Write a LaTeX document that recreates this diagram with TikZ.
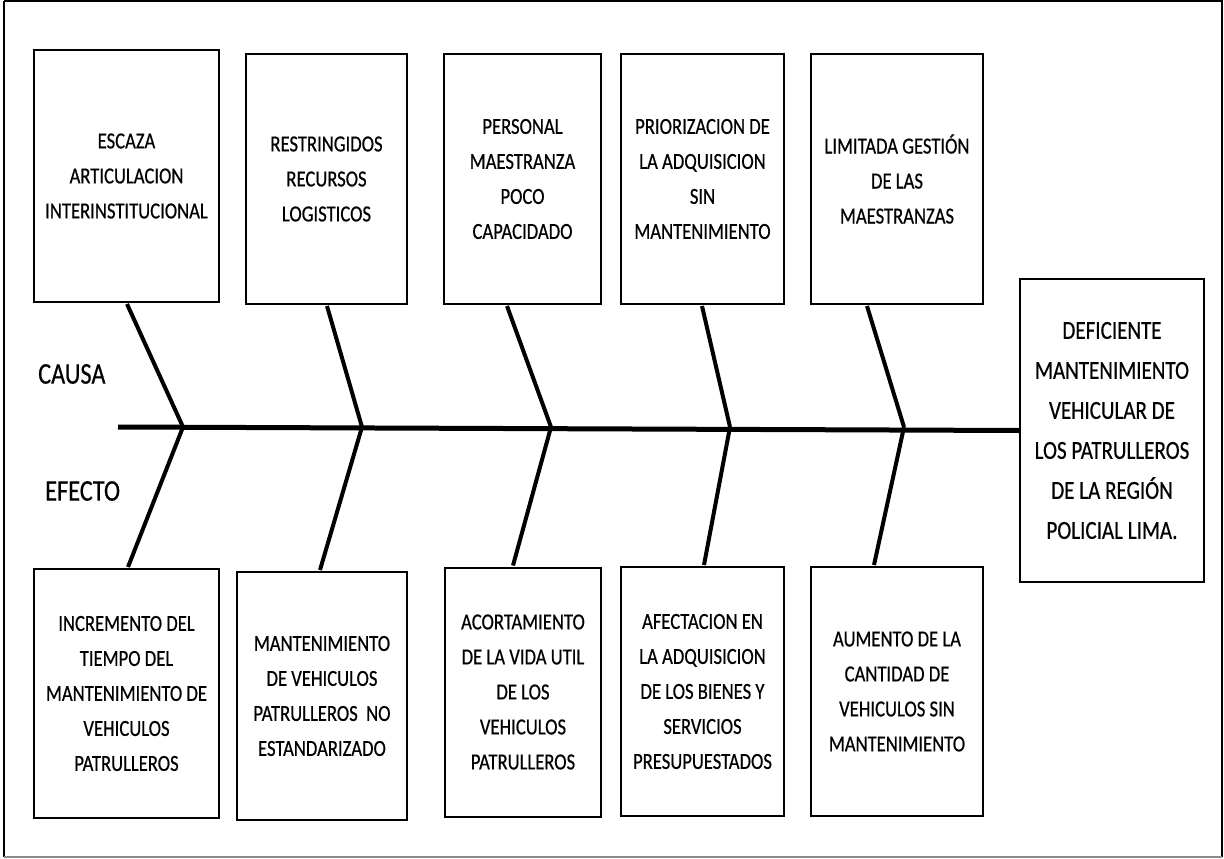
\documentclass[tikz,border=0pt]{standalone}
\usepackage{fontspec}
\setmainfont{Carlito}[FakeStretch=0.81,FakeBold=0.5]
\usetikzlibrary{calc}
\tikzset{
  frame/.style={draw=black, line width=1.5pt},
  causebox/.style={draw=black, line width=2pt, align=center, inner sep=0pt,
    font=\fontsize{23}{35}\selectfont},
  effbox/.style={draw=black, line width=2pt, align=center, inner sep=0pt,
    font=\fontsize{26}{40}\selectfont},
  sidelabel/.style={anchor=west, inner sep=0pt, font=\fontsize{30}{36}\selectfont},
  spine/.style={line width=5pt},
  bone/.style={line width=4pt},
}
\begin{document}
\begin{tikzpicture}[x=1pt,y=-1pt]
\useasboundingbox (0,0) rectangle (1224,859);
\fill[white] (0,0) rectangle (1224,859);
\draw[frame] (4,1) -- (1222,1) -- (1222,857);
\draw[frame] (4,1) -- (4,857);
\draw[line width=1.5pt, draw=black!45] (4,857) -- (1222,857);

% top (cause) boxes
\node[causebox, minimum width=185, minimum height=252] (c1) at (126.5,176) {ESCAZA\\ARTICULACION\\INTERINSTITUCIONAL};
\node[causebox, minimum width=161, minimum height=250] (c2) at (326.5,179) {RESTRINGIDOS\\RECURSOS\\LOGISTICOS};
\node[causebox, minimum width=157, minimum height=250] (c3) at (522.5,179) {PERSONAL\\MAESTRANZA\\POCO\\CAPACIDADO};
\node[causebox, minimum width=163, minimum height=250] (c4) at (702.5,179) {PRIORIZACION DE\\LA ADQUISICION\\SIN\\MANTENIMIENTO};
\node[causebox, minimum width=172, minimum height=250] (c5) at (897,179) {LIMITADA GESTIÓN\\DE LAS\\MAESTRANZAS};

% bottom (effect) boxes
\node[causebox, minimum width=185, minimum height=249] (e1) at (126.5,693.5) {INCREMENTO DEL\\TIEMPO DEL\\MANTENIMIENTO DE\\VEHICULOS\\PATRULLEROS};
\node[causebox, minimum width=170, minimum height=248] (e2) at (322,696) {MANTENIMIENTO\\DE VEHICULOS\\PATRULLEROS\ \ NO\\ESTANDARIZADO};
\node[causebox, minimum width=156, minimum height=249] (e3) at (523,692) {ACORTAMIENTO\\DE LA VIDA UTIL\\DE LOS\\VEHICULOS\\PATRULLEROS};
\node[causebox, minimum width=163, minimum height=249] (e4) at (702.5,691.5) {AFECTACION EN\\LA ADQUISICION\\DE LOS BIENES Y\\SERVICIOS\\PRESUPUESTADOS};
\node[causebox, minimum width=172, minimum height=249] (e5) at (897,691.5) {AUMENTO DE LA\\CANTIDAD DE\\VEHICULOS SIN\\MANTENIMIENTO};

% final effect box
\node[effbox, minimum width=184, minimum height=303] (eff) at (1112,430.5) {DEFICIENTE\\MANTENIMIENTO\\VEHICULAR DE\\LOS PATRULLEROS\\DE LA REGIÓN\\POLICIAL LIMA.};

% labels
\node[sidelabel] (causa) at (38,374) {CAUSA};
\node[sidelabel] (efecto) at (45,491) {EFECTO};

% spine and junctions
\coordinate (tail) at (118,427);
\coordinate (j1) at (183,427);
\coordinate (j2) at (362,427);
\coordinate (j3) at (551,427);
\coordinate (j4) at (730,427);
\coordinate (j5) at (904,427);
\draw[spine] (tail) -- (eff.west);

% cause bones
\draw[bone] ($(c1.south)+(0.5,1)$) -- (j1);
\draw[bone] ($(c2.south)+(0.5,1)$) -- (j2);
\draw[bone] ($(c3.south)+(-15.5,1)$) -- (j3);
\draw[bone] ($(c4.south)+(-0.5,1)$) -- (j4);
\draw[bone] ($(c5.south)+(-30,1)$) -- (j5);

% effect bones
\draw[bone] (j1) -- ($(e1.north)+(1.5,-1)$);
\draw[bone] (j2) -- ($(e2.north)+(-2,-1)$);
\draw[bone] (j3) -- ($(e3.north)+(-10,-1)$);
\draw[bone] (j4) -- ($(e4.north)+(1.5,-1)$);
\draw[bone] (j5) -- ($(e5.north)+(-23,-1)$);
\end{tikzpicture}
\end{document}
